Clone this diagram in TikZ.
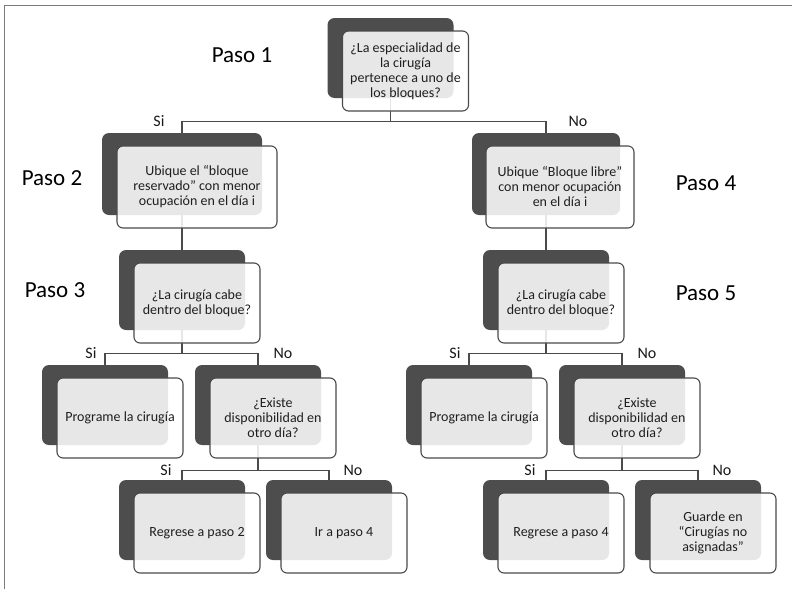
\documentclass[tikz,border=0pt]{standalone}
\usepackage{fontspec}
\setmainfont{Carlito}
\usetikzlibrary{positioning}
\definecolor{backgray}{HTML}{4D4D4D}
\definecolor{linegray}{HTML}{4A4A4A}
\definecolor{framegray}{HTML}{7A7A7A}
\tikzset{
  back/.style={fill=backgray, rounded corners=7pt, minimum width=126, minimum height=80, inner sep=0pt},
  front/.style={draw=linegray, line width=1.1pt, fill=white, fill opacity=0.87, text opacity=1,
    rounded corners=6pt, minimum width=126, minimum height=80, inner sep=0pt, align=center,
    font=\fontsize{14}{15}\selectfont, text=black!88},
  bus/.style={draw=linegray, line width=1.1pt},
  lbl/.style={font=\fontsize{16}{18}\selectfont, text=black!90, inner sep=0pt, pos=.5},
  paso/.style={font=\fontsize{23}{28}\selectfont, text=black}
}

\begin{document}
\begin{tikzpicture}[x=1pt, y=-1pt]
\useasboundingbox (0,0) rectangle (792,589);
\draw[framegray, line width=1.5pt] (4.5,589) -- (4.5,5.5) -- (792,5.5);

\node[paso] (paso1) at (242,55) {Paso 1};
\node[paso] (paso2) at (52,178) {Paso 2};
\node[paso] (paso3) at (55,290) {Paso 3};
\node[paso] (paso4) at (706,183) {Paso 4};
\node[paso] (paso5) at (706,293) {Paso 5};

\node[back] (b1) at (390.5,58) {};
\node[back, minimum width=160, minimum height=82] (b2) at (182,174) {};
\node[back, minimum width=148, minimum height=82] (b4) at (546,174) {};
\node[back] (b3) at (182,290) {};
\node[back] (b5) at (546,290) {};
\node[back] (b6) at (105,405) {};
\node[back] (b7) at (258,405) {};
\node[back] (b8) at (469,405) {};
\node[back] (b9) at (622,405) {};
\node[back] (b10) at (182,520) {};
\node[back] (b11) at (329,520) {};
\node[back] (b12) at (546,520) {};
\node[back] (b13) at (698,520) {};

\draw[bus] (b1.south) -- ++(0,23) -| node[lbl, anchor=east, xshift=-17] (si1) {Si} (b2.north);
\draw[bus] (b1.south) -- ++(0,23) -| node[lbl, anchor=west, xshift=22] (no1) {No} (b4.north);
\draw[bus] (b2.south) -- (b3.north);
\draw[bus] (b4.south) -- (b5.north);
\draw[bus] (b3.south) -- ++(0,23) -| node[lbl, anchor=east, xshift=-8] (si3) {Si} (b6.north);
\draw[bus] (b3.south) -- ++(0,23) -| node[lbl, anchor=west, xshift=15] (no3) {No} (b7.north);
\draw[bus] (b7.south) -- ++(0,25) -| node[lbl, anchor=east, xshift=-10] (si7) {Si} (b10.north);
\draw[bus] (b7.south) -- ++(0,25) -| node[lbl, anchor=west, xshift=14] (no7) {No} (b11.north);
\draw[bus] (b5.south) -- ++(0,23) -| node[lbl, anchor=east, xshift=-8] (si5) {Si} (b8.north);
\draw[bus] (b5.south) -- ++(0,23) -| node[lbl, anchor=west, xshift=15] (no5) {No} (b9.north);
\draw[bus] (b9.south) -- ++(0,25) -| node[lbl, anchor=east, xshift=-10] (si9) {Si} (b12.north);
\draw[bus] (b9.south) -- ++(0,25) -| node[lbl, anchor=west, xshift=14] (no9) {No} (b13.north);

\node[front] (f1) at ([shift={(15,13)}]b1.center) {¿La especialidad de\\la cirugía\\pertenece a uno de\\los bloques?};
\node[front, minimum width=160, minimum height=82] (f2) at ([shift={(15,13)}]b2.center) {Ubique el “bloque\\reservado” con menor\\ocupación en el día i};
\node[front, minimum width=148, minimum height=82] (f4) at ([shift={(14,13)}]b4.center) {Ubique “Bloque libre”\\con menor ocupación\\en el día i};
\node[front] (f3) at ([shift={(15,13)}]b3.center) {¿La cirugía cabe\\dentro del bloque?};
\node[front] (f5) at ([shift={(15,13)}]b5.center) {¿La cirugía cabe\\dentro del bloque?};
\node[front] (f6) at ([shift={(15,13)}]b6.center) {Programe la cirugía};
\node[front] (f7) at ([shift={(15,13)}]b7.center) {¿Existe\\disponibilidad en\\otro día?};
\node[front] (f8) at ([shift={(15,13)}]b8.center) {Programe la cirugía};
\node[front] (f9) at ([shift={(15,13)}]b9.center) {¿Existe\\disponibilidad en\\otro día?};
\node[front] (f10) at ([shift={(15,13)}]b10.center) {Regrese a paso 2};
\node[front] (f11) at ([shift={(15,13)}]b11.center) {Ir a paso 4};
\node[front] (f12) at ([shift={(15,13)}]b12.center) {Regrese a paso 4};
\node[front] (f13) at ([shift={(15,13)}]b13.center) {Guarde en\\“Cirugías no\\asignadas”};
\end{tikzpicture}
\end{document}
